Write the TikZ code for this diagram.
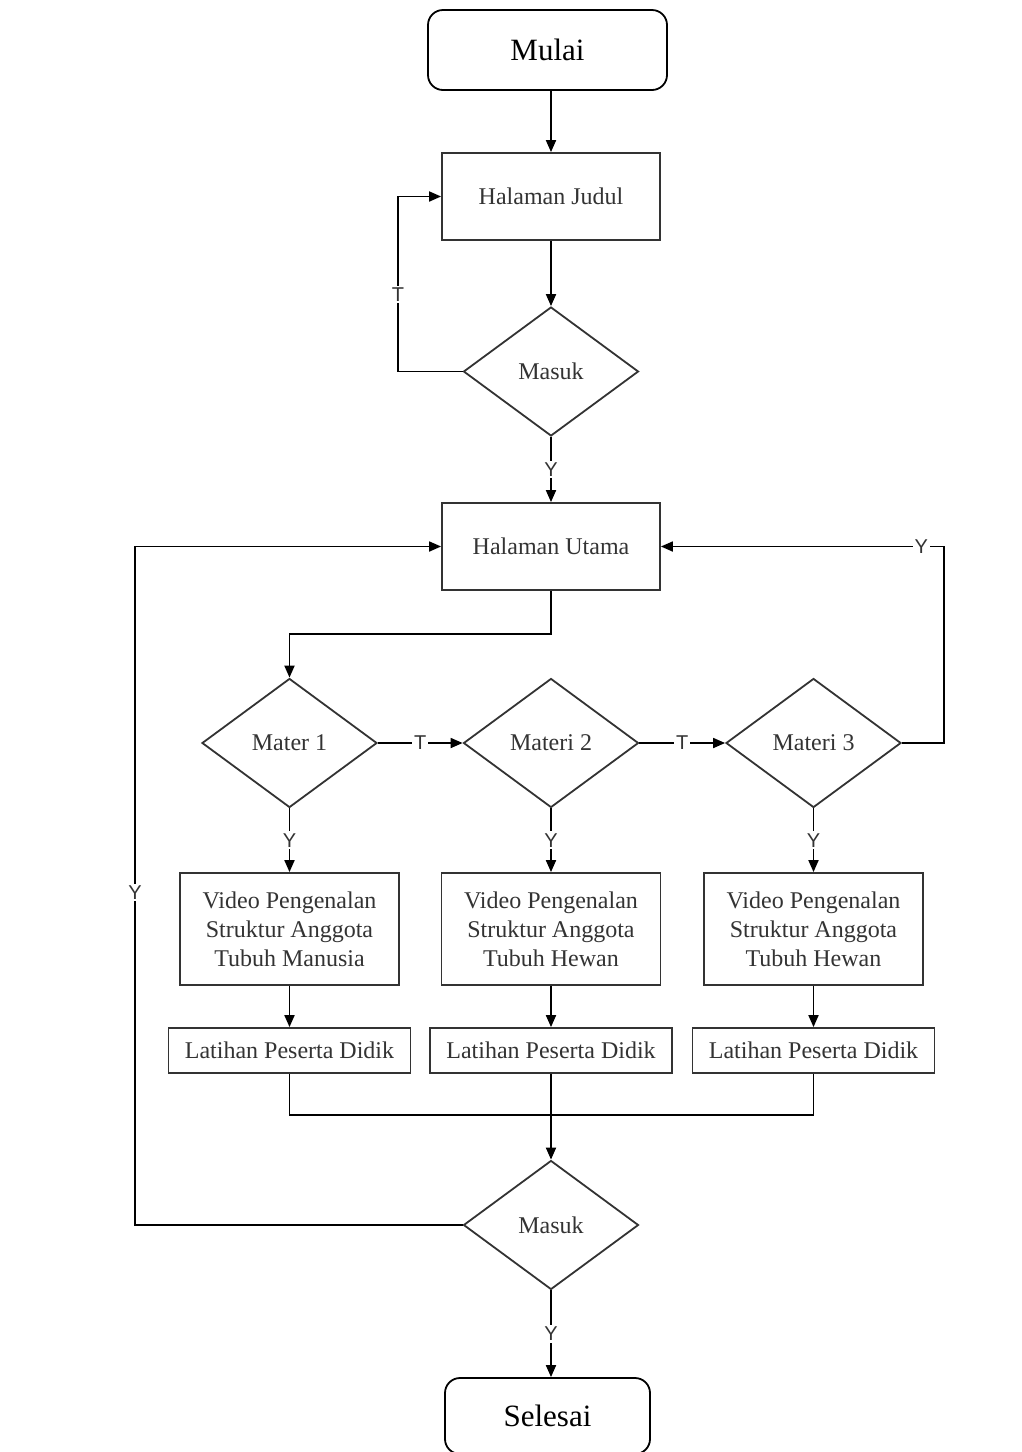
\documentclass[tikz,border=0pt]{standalone}
\usepackage{fontspec}
\setmainfont{Liberation Serif}
\setsansfont{Liberation Sans}
\usepackage{tikz}
\usetikzlibrary{arrows.meta, positioning, shapes.geometric}

\begin{document}
\begin{tikzpicture}[
    x=0.5pt, y=-0.5pt,
    line width=0.9pt,
    font=\fontsize{12}{14.5}\selectfont,
    arr/.style={-{Triangle[length=6pt,width=5pt]}},
    terminal/.style={rectangle, rounded corners=7.5pt, draw=black, minimum width=119.5pt, minimum height=40pt, font=\fontsize{15.5}{18}\selectfont},
    process/.style={rectangle, draw=black!80, minimum width=109pt, minimum height=43.5pt, text=black!80},
    videobox/.style={rectangle, draw=black!80, minimum width=109.5pt, minimum height=56pt, align=center, text=black!80, inner sep=0pt},
    latihanbox/.style={rectangle, draw=black!80, minimum width=121pt, minimum height=22.5pt, text=black!80, inner sep=0pt},
    decision/.style={diamond, draw=black!80, minimum width=87.5pt, minimum height=64.5pt, inner sep=0pt, text=black!80},
    lbl/.style={fill=white, inner sep=1pt, font=\sffamily\fontsize{10}{11}\selectfont, text=black!80},
    ]

    \useasboundingbox (0,0) rectangle (1022,1452);

    \node[terminal]      (mulai)      at (547.5,50)    {Mulai};
    \node[process]       (judul)      at (551,196.5)   {Halaman Judul};
    \node[decision]      (masuk1)     at (551,371.5)   {Masuk};
    \node[process]       (utama)      at (551,546.5)   {Halaman Utama};

    \node[decision]      (mater1)     at (289.5,743)   {Mater 1};
    \node[decision]      (materi2)    at (551,743)     {Materi 2};
    \node[decision]      (materi3)    at (813.5,743)   {Materi 3};

    \node[videobox]      (video1)     at (289.5,929)   {Video Pengenalan\\Struktur Anggota\\Tubuh Manusia};
    \node[videobox]      (video2)     at (551,929)     {Video Pengenalan\\Struktur Anggota\\Tubuh Hewan};
    \node[videobox]      (video3)     at (813.5,929)   {Video Pengenalan\\Struktur Anggota\\Tubuh Hewan};

    \node[latihanbox]    (latihan1)   at (289.5,1050.5) {Latihan Peserta Didik};
    \node[latihanbox]    (latihan2)   at (551,1050.5)  {Latihan Peserta Didik};
    \node[latihanbox]    (latihan3)   at (813.5,1050.5) {Latihan Peserta Didik};

    \node[decision]      (masuk2)     at (551,1225)    {Masuk};
    \node[terminal, minimum width=102.5pt, minimum height=38pt] (selesai) at (547.5,1416) {Selesai};

    \coordinate (loopT)  at (398,371.5);
    \coordinate (split)  at (551,634);
    \coordinate (loopR)  at (944,743);
    \coordinate (mergeY) at (0,1115);
    \coordinate (loopL)  at (135,1225);

    % alur utama
    \draw[arr] (mulai.south -| judul.north) -- (judul.north);
    \draw[arr] (judul) -- (masuk1);
    \draw[arr] (masuk1.west) -- (loopT) |- node[lbl, pos=0.22] {T} (judul.west);
    \draw[arr] (masuk1) -- node[lbl] {Y} (utama);
    \draw[arr] (utama.south) -- (split) -| (mater1.north);

    % pilihan materi
    \draw[arr] (mater1) -- node[lbl] {T} (materi2);
    \draw[arr] (materi2) -- node[lbl] {T} (materi3);
    \draw[arr] (materi3.east) -- (loopR) |- node[lbl, pos=0.54] {Y} (utama.east);

    \draw[arr] (mater1) -- node[lbl] {Y} (video1);
    \draw[arr] (materi2) -- node[lbl] {Y} (video2);
    \draw[arr] (materi3) -- node[lbl] {Y} (video3);

    \draw[arr] (video1) -- (latihan1);
    \draw[arr] (video2) -- (latihan2);
    \draw[arr] (video3) -- (latihan3);

    % gabung
    \draw (latihan1.south) -- (latihan1.south |- mergeY) -- (latihan3.south |- mergeY) -- (latihan3.south);
    \draw[arr] (latihan2) -- (masuk2);
    \draw[arr] (masuk2.west) -- (loopL) |- node[lbl, pos=0.245] {Y} (utama.west);
    \draw[arr] (masuk2.south) -- node[lbl] {Y} (masuk2.south |- selesai.north);

\end{tikzpicture}
\end{document}
